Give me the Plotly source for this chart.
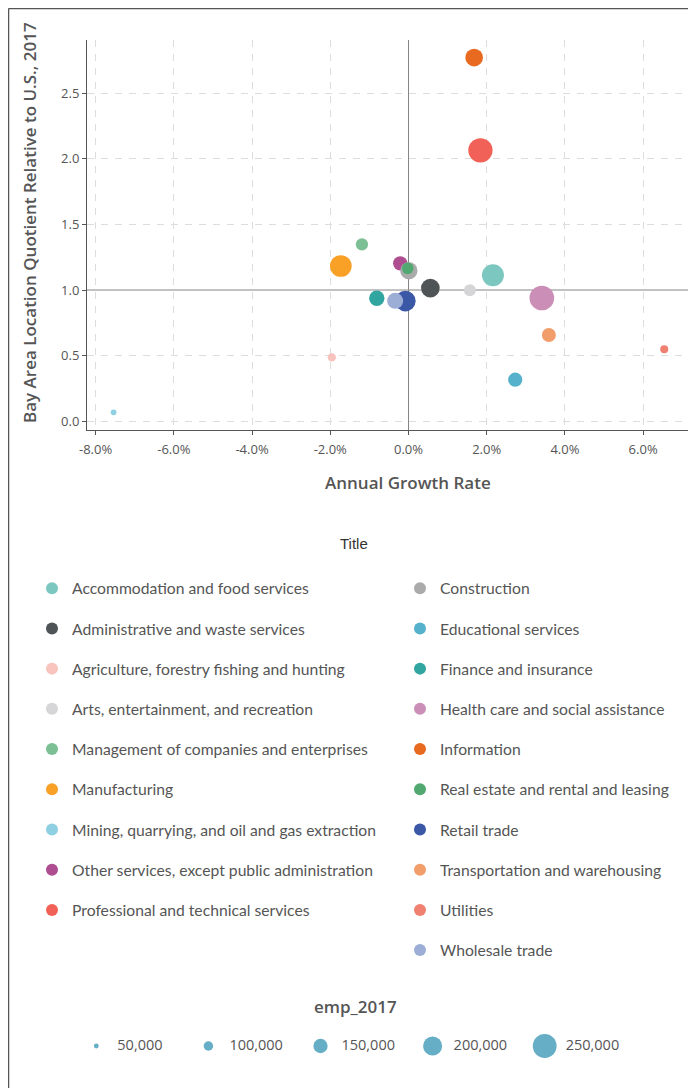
import plotly.graph_objects as go

# ---------------- data ----------------
industries = [
    "Accommodation and food services",
    "Administrative and waste services",
    "Agriculture, forestry fishing and hunting",
    "Arts, entertainment, and recreation",
    "Construction",
    "Educational services",
    "Finance and insurance",
    "Health care and social assistance",
    "Information",
    "Management of companies and enterprises",
    "Manufacturing",
    "Mining, quarrying, and oil and gas extraction",
    "Other services, except public administration",
    "Professional and technical services",
    "Real estate and rental and leasing",
    "Retail trade",
    "Transportation and warehousing",
    "Utilities",
    "Wholesale trade",
]
growth = [0.0216, 0.0056, -0.0196, 0.0157, 0.0001, 0.0273, -0.0081, 0.0341, 0.0168,
          -0.0119, -0.0173, -0.0754, -0.0021, 0.0184, -0.0002, -0.0008, 0.0359, 0.0654, -0.0034]
lq_2017 = [1.112, 1.015, 0.487, 0.998, 1.147, 0.317, 0.937, 0.939, 2.770,
           1.348, 1.183, 0.069, 1.203, 2.064, 1.165, 0.916, 0.657, 0.548, 0.918]
emp_2017 = [231000, 196000, 87000, 126000, 182000, 150000, 161000, 259000, 186000,
            129000, 228000, 60000, 150000, 255000, 123000, 217000, 147000, 84000, 168000]
colors = ["#7CC8C1", "#4F5456", "#F8C3BD", "#D5D5D7", "#ABABAB", "#56B2CC", "#31A6A0",
          "#CB8FB7", "#E86A21", "#7DBF94", "#F9A027", "#8ECFE1", "#AE4D90", "#F26157",
          "#52A871", "#3B58A6", "#F29E6B", "#F0806F", "#9CADD6"]

left_column = [
    "Accommodation and food services",
    "Administrative and waste services",
    "Agriculture, forestry fishing and hunting",
    "Arts, entertainment, and recreation",
    "Management of companies and enterprises",
    "Manufacturing",
    "Mining, quarrying, and oil and gas extraction",
    "Other services, except public administration",
    "Professional and technical services",
]
# drawing order (first drawn = bottom)
draw_first = ["Other services, except public administration"]

size_legend_values = [50000, 100000, 150000, 200000, 250000]
size_legend_labels = ["50,000", "100,000", "150,000", "200,000", "250,000"]

x_ticks = [-0.08, -0.06, -0.04, -0.02, 0.0, 0.02, 0.04, 0.06]
x_tick_labels = ["-8.0%", "-6.0%", "-4.0%", "-2.0%", "0.0%", "2.0%", "4.0%", "6.0%"]
y_ticks = [0.0, 0.5, 1.0, 1.5, 2.0, 2.5]
y_tick_labels = ["0.0", "0.5", "1.0", "1.5", "2.0", "2.5"]
y_grid = [v for v in y_ticks if v != 1.0]   # LQ = 1 gets a solid reference line

# ---------------- layout helpers ----------------
OFF = 8                     # page body margin
W, H = 696 - OFF, 1088 - OFF
FONT = "Lato"
TICKFONT = "Open Sans"
TXT = "#555555"
SIZEREF = 10500.0


def px(xs):
    """screen x pixel -> paper"""
    return (xs - OFF) / W


def py(ys):
    """screen y pixel -> paper"""
    return 1 - (ys - OFF) / H


fig = go.Figure()

order = [i for i, n in enumerate(industries) if n in draw_first] + \
        [i for i, n in enumerate(industries) if n not in draw_first]

for i in order:
    name = industries[i]
    fig.add_trace(go.Scatter(
        x=[growth[i]], y=[lq_2017[i]], mode="markers", name=name,
        legend="legend" if name in left_column else "legend2",
        legendgroup=name, legendrank=i + 1,
        marker=dict(size=[emp_2017[i]], sizemode="diameter", sizeref=SIZEREF,
                    color=colors[i], line=dict(width=0), opacity=1),
        customdata=[emp_2017[i]],
        hovertemplate=name + "<br>Growth: %{x:.1%}<br>LQ: %{y:.2f}<br>Employment: %{customdata:,}<extra></extra>",
        xaxis="x", yaxis="y",
    ))

# size legend drawn on a hidden helper axis
STEP = 112.1
X0 = 96.3 - OFF
idx = list(range(len(size_legend_values)))
fig.add_trace(go.Scatter(
    x=idx, y=[0] * len(idx), mode="markers", showlegend=False, hoverinfo="skip",
    marker=dict(size=size_legend_values, sizemode="diameter", sizeref=SIZEREF,
                color="#65AEC6", line=dict(width=0), opacity=1),
    xaxis="x2", yaxis="y2",
))
fig.add_trace(go.Scatter(
    x=[i + 21 / STEP for i in idx], y=[0] * len(idx), mode="text", showlegend=False,
    hoverinfo="skip", text=size_legend_labels, textposition="middle right",
    textfont=dict(family=TICKFONT, size=14.5, color=TXT),
    xaxis="x2", yaxis="y2",
))

axis_common = dict(
    showline=True, linecolor="#555555", linewidth=1,
    ticks="outside", ticklen=4, tickcolor="#555555", tickwidth=1,
    tickfont=dict(family=TICKFONT, size=13, color=TXT),
    automargin=False, fixedrange=True,
)
grid_style = dict(showgrid=True, gridcolor="#DDDDDD", gridwidth=1, griddash="7px,7px")
title_font = dict(family="Open Sans", size=17, weight=600, color=TXT)

fig.update_layout(
    template="none",
    width=W, height=H,
    margin=dict(l=0, r=0, t=0, b=0),
    paper_bgcolor="white", plot_bgcolor="rgba(0,0,0,0)",
    font=dict(family=FONT, color=TXT),
    xaxis=dict(
        domain=[px(87), px(692)], range=[-0.0822, 0.0725],
        tickmode="array", tickvals=x_ticks, ticktext=x_tick_labels, anchor="y",
        zeroline=True, zerolinecolor="#858585", zerolinewidth=1,
        ticklabelstandoff=3,
        **grid_style, **axis_common,
    ),
    yaxis=dict(
        domain=[py(430), py(40)], range=[-0.066, 2.904],
        tickmode="array", tickvals=y_ticks, ticktext=y_tick_labels, anchor="x",
        zeroline=False, showgrid=False,
        minor=dict(tickmode="array", tickvals=y_grid, ticks="", showgrid=True,
                   gridcolor="#DDDDDD", gridwidth=1, griddash="7px,7px"),
        **axis_common,
    ),
    xaxis2=dict(domain=[0, 1], range=[-X0 / STEP, (W - X0) / STEP], visible=False,
                anchor="y2", fixedrange=True),
    yaxis2=dict(domain=[py(1066), py(1026)], range=[-1, 1], visible=False,
                anchor="x2", fixedrange=True),
    showlegend=True,
    legend=dict(
        x=px(32), y=py(571.5), xanchor="left", yanchor="top",
        orientation="v", itemsizing="constant", tracegroupgap=16.8,
        font=dict(family=FONT, size=15.7, color=TXT),
        bgcolor="rgba(0,0,0,0)", borderwidth=0,
    ),
    legend2=dict(
        x=px(400), y=py(571.5), xanchor="left", yanchor="top",
        orientation="v", itemsizing="constant", tracegroupgap=16.8,
        font=dict(family=FONT, size=15.7, color=TXT),
        bgcolor="rgba(0,0,0,0)", borderwidth=0,
    ),
    shapes=[
        # reference line at LQ = 1
        dict(type="line", xref="x domain", yref="y", x0=0, x1=1, y0=1, y1=1,
             line=dict(color="#858585", width=1), layer="below"),
        # outer frame (top & left)
        dict(type="line", xref="paper", yref="paper", x0=0.5 / W, x1=1.0,
             y0=1 - 0.5 / H, y1=1 - 0.5 / H, line=dict(color="#555555", width=1.5),
             layer="above"),
        dict(type="line", xref="paper", yref="paper", x0=0.5 / W, x1=0.5 / W,
             y0=1 - 0.5 / H, y1=0.0, line=dict(color="#555555", width=1.5),
             layer="above"),
    ],
    annotations=[
        dict(text="Annual Growth Rate", xref="paper", yref="paper",
             x=px(408), y=py(482), xanchor="center", yanchor="middle", showarrow=False,
             font=title_font),
        dict(text="Bay Area Location Quotient Relative to U.S., 2017", xref="paper",
             yref="paper", x=px(29), y=py(223), xanchor="center", yanchor="middle",
             textangle=-90, showarrow=False, font=title_font),
        dict(text="Title", xref="paper", yref="paper", x=px(354), y=py(543),
             xanchor="center", yanchor="middle", showarrow=False,
             font=dict(family="Liberation Sans", size=15, color="#333333")),
        dict(text="emp_2017", xref="paper", yref="paper", x=px(355), y=py(1006),
             xanchor="center", yanchor="middle", showarrow=False,
             font=dict(family="Open Sans", size=17, weight=600, color=TXT)),
    ],
)

fig.write_html("out.html")
